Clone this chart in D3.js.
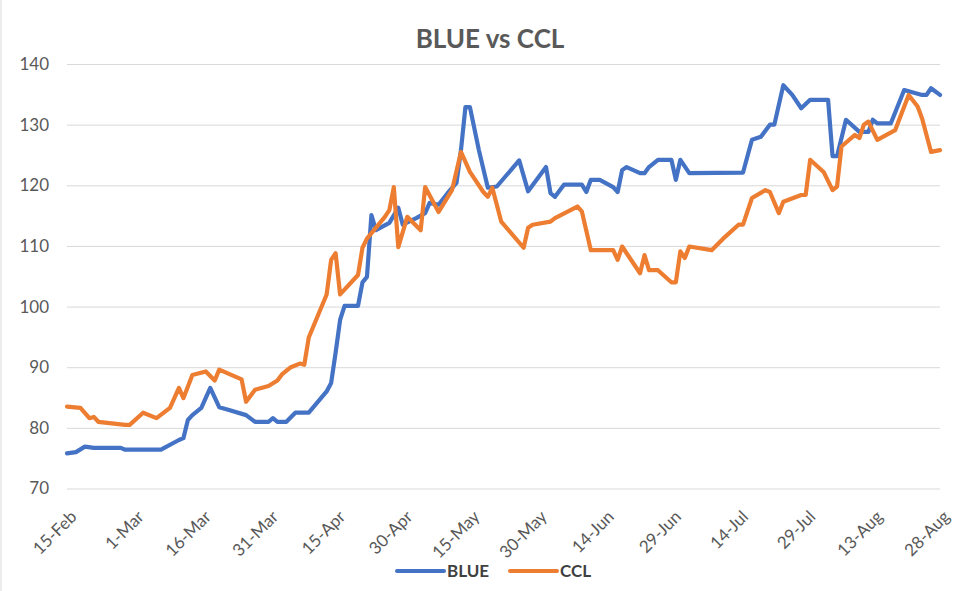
<!DOCTYPE html>
<html>
<head>
<meta charset="utf-8">
<script src="https://cdn.jsdelivr.net/npm/d3@7"></script>
<style>
  body { margin: 0; background: #fff; }
  text { font-family: Lato, "Open Sans", sans-serif; }
</style>
</head>
<body>
<svg width="980" height="591"></svg>
<script>
// data (2020)
var tickDates = ["2020-02-15", "2020-03-01", "2020-03-16", "2020-03-31", "2020-04-15", "2020-04-30",
  "2020-05-15", "2020-05-30", "2020-06-14", "2020-06-29", "2020-07-14", "2020-07-29", "2020-08-13", "2020-08-28"];
var yTicks = [70, 80, 90, 100, 110, 120, 130, 140];

var blueDates = ["2020-02-15","2020-02-17","2020-02-19","2020-02-21","2020-02-27","2020-02-28","2020-03-07",
  "2020-03-11","2020-03-12","2020-03-13","2020-03-14","2020-03-16","2020-03-18","2020-03-20","2020-03-22",
  "2020-03-26","2020-03-28","2020-03-31","2020-04-01","2020-04-02","2020-04-04","2020-04-06","2020-04-09",
  "2020-04-13","2020-04-14","2020-04-15","2020-04-16","2020-04-17","2020-04-20","2020-04-21","2020-04-22",
  "2020-04-23","2020-04-24","2020-04-27","2020-04-29","2020-04-30","2020-05-03","2020-05-05","2020-05-06",
  "2020-05-08","2020-05-10","2020-05-12","2020-05-13","2020-05-14","2020-05-15","2020-05-17","2020-05-19",
  "2020-05-21","2020-05-26","2020-05-28","2020-06-01","2020-06-02","2020-06-03","2020-06-05","2020-06-09",
  "2020-06-10","2020-06-11","2020-06-13","2020-06-16","2020-06-17","2020-06-18","2020-06-19","2020-06-22",
  "2020-06-23","2020-06-24","2020-06-26","2020-06-29","2020-06-30","2020-07-01","2020-07-03","2020-07-15",
  "2020-07-17","2020-07-19","2020-07-21","2020-07-22","2020-07-24","2020-07-26","2020-07-28","2020-07-30",
  "2020-08-03","2020-08-04","2020-08-05","2020-08-07","2020-08-10","2020-08-12","2020-08-13","2020-08-14",
  "2020-08-17","2020-08-20","2020-08-24","2020-08-25","2020-08-26","2020-08-28"];
var blueValues = [75.8,76.0,76.9,76.7,76.7,76.4,76.4,
  78.0,78.3,81.3,82.1,83.3,86.6,83.4,83.0,
  82.1,81.0,81.0,81.6,81.0,81.0,82.5,82.5,
  86.0,87.4,92.4,97.8,100.1,100.1,104.0,104.9,
  115.1,112.6,113.8,116.3,113.5,114.6,115.4,117.1,
  116.8,118.7,120.4,125.8,132.9,132.9,125.8,119.6,
  119.8,124.1,119.0,123.0,118.7,118.1,120.1,120.1,
  118.9,120.9,120.9,119.7,118.9,122.5,123.0,122.0,
  122.0,123.0,124.2,124.2,120.9,124.2,122.0,122.1,
  127.5,128.0,130.0,130.0,136.5,134.9,132.7,134.1,
  134.1,124.8,124.8,130.8,128.8,128.8,130.8,130.2,
  130.2,135.7,134.9,134.9,136.0,134.9];

var cclDates = ["2020-02-15","2020-02-18","2020-02-20","2020-02-21","2020-02-22","2020-02-28","2020-02-29",
  "2020-03-03","2020-03-06","2020-03-09","2020-03-11","2020-03-12","2020-03-14","2020-03-17","2020-03-19",
  "2020-03-20","2020-03-25","2020-03-26","2020-03-28","2020-03-31","2020-04-02","2020-04-03","2020-04-05",
  "2020-04-07","2020-04-08","2020-04-09","2020-04-13","2020-04-14","2020-04-15","2020-04-16","2020-04-20",
  "2020-04-21","2020-04-22","2020-04-26","2020-04-27","2020-04-28","2020-04-29","2020-05-01","2020-05-04",
  "2020-05-05","2020-05-08","2020-05-11","2020-05-13","2020-05-15","2020-05-18","2020-05-19","2020-05-20",
  "2020-05-22","2020-05-27","2020-05-28","2020-05-29","2020-06-02","2020-06-03","2020-06-08","2020-06-09",
  "2020-06-11","2020-06-16","2020-06-17","2020-06-18","2020-06-19","2020-06-22","2020-06-23","2020-06-24",
  "2020-06-26","2020-06-29","2020-06-30","2020-07-01","2020-07-02","2020-07-03","2020-07-08","2020-07-11",
  "2020-07-14","2020-07-15","2020-07-17","2020-07-20","2020-07-21","2020-07-23","2020-07-24","2020-07-28",
  "2020-07-29","2020-07-30","2020-08-02","2020-08-04","2020-08-05","2020-08-06","2020-08-09","2020-08-10",
  "2020-08-11","2020-08-12","2020-08-14","2020-08-18","2020-08-21","2020-08-23","2020-08-24","2020-08-26",
  "2020-08-28"];
var cclValues = [83.5,83.3,81.6,81.8,81.0,80.5,80.5,
  82.5,81.6,83.3,86.6,84.9,88.7,89.3,87.8,
  89.6,88.0,84.3,86.3,86.9,87.8,88.8,90.0,
  90.6,90.4,94.9,102.0,107.7,108.8,102.0,105.2,
  109.7,111.2,114.8,115.9,119.7,109.8,114.8,112.6,
  119.7,115.6,119.2,125.5,122.2,118.9,118.1,119.6,
  114.0,109.7,113.0,113.5,114.0,114.6,116.5,115.7,
  109.3,109.3,107.7,109.9,108.8,105.5,108.5,106.0,
  106.0,104.0,104.0,109.1,108.0,109.9,109.3,111.5,
  113.5,113.5,117.9,119.2,118.9,115.4,117.3,118.4,
  118.4,124.2,122.2,119.2,119.8,126.4,128.3,127.8,
  130.0,130.5,127.5,129.1,134.9,133.0,131.0,125.5,
  125.8];

var seriesNames = ["BLUE", "CCL"];
var seriesColors = ["#4472C4", "#ED7D31"];

var parse = d3.timeParse("%Y-%m-%d");
var fmt = d3.timeFormat("%-d-%b");

var svg = d3.select("svg"),
  width = +svg.attr("width"),
  height = +svg.attr("height");

var x = d3.scaleTime()
  .domain([parse(tickDates[0]), parse(tickDates[tickDates.length - 1])])
  .range([67, 940]);
var y = d3.scaleLinear().domain([70, 140]).range([488.5, 64]);

// chart border on the left
svg.append("line")
  .attr("x1", 1).attr("x2", 1).attr("y1", 0).attr("y2", height)
  .attr("stroke", "#d9d9d9");

// title
svg.append("text")
  .attr("x", 490).attr("y", 48)
  .attr("text-anchor", "middle")
  .attr("font-size", "26px")
  .attr("font-weight", "bold")
  .attr("fill", "#595959")
  .text("BLUE vs CCL");

// y gridlines + labels
var yAxis = svg.append("g")
  .attr("transform", "translate(67,0)")
  .call(d3.axisLeft(y).tickValues(yTicks).tickSize(-(940 - 67)).tickPadding(18));
yAxis.select(".domain").remove();
yAxis.selectAll(".tick line").attr("stroke", "#d9d9d9");
yAxis.selectAll(".tick text")
  .attr("fill", "#595959")
  .attr("font-size", "17px");

// x labels, rotated like excel
var xAxis = svg.append("g")
  .attr("transform", "translate(0,488.5)")
  .call(d3.axisBottom(x).tickValues(tickDates.map(parse)).tickFormat(fmt).tickSize(0));
xAxis.select(".domain").remove();
xAxis.selectAll(".tick text")
  .attr("fill", "#595959")
  .attr("font-size", "17px")
  .attr("text-anchor", "end")
  .attr("dy", "0.35em")
  .attr("transform", "translate(4,23) rotate(-45)");

// lines
var line = d3.line()
  .x(function (d) { return x(d.date); })
  .y(function (d) { return y(d.value); });

var series = [
  blueDates.map(function (d, i) { return { date: parse(d), value: blueValues[i] }; }),
  cclDates.map(function (d, i) { return { date: parse(d), value: cclValues[i] }; })
];

svg.append("g")
  .selectAll("path")
  .data(series)
  .enter()
  .append("path")
  .attr("d", line)
  .attr("fill", "none")
  .attr("stroke", function (d, i) { return seriesColors[i]; })
  .attr("stroke-width", 4.2)
  .attr("stroke-linejoin", "round")
  .attr("stroke-linecap", "round");

// legend
var legendX = [397, 510];
var leg = svg.append("g").attr("transform", "translate(0,571)");
leg.selectAll("line")
  .data(seriesNames)
  .enter()
  .append("line")
  .attr("x1", function (d, i) { return legendX[i]; })
  .attr("x2", function (d, i) { return legendX[i] + 47; })
  .attr("stroke", function (d, i) { return seriesColors[i]; })
  .attr("stroke-width", 4)
  .attr("stroke-linecap", "round");
leg.selectAll("text")
  .data(seriesNames)
  .enter()
  .append("text")
  .attr("x", function (d, i) { return legendX[i] + 50; })
  .attr("dy", "0.36em")
  .attr("font-size", "17px")
  .attr("font-weight", "bold")
  .attr("fill", "#404040")
  .text(function (d) { return d; });
</script>
</body>
</html>
